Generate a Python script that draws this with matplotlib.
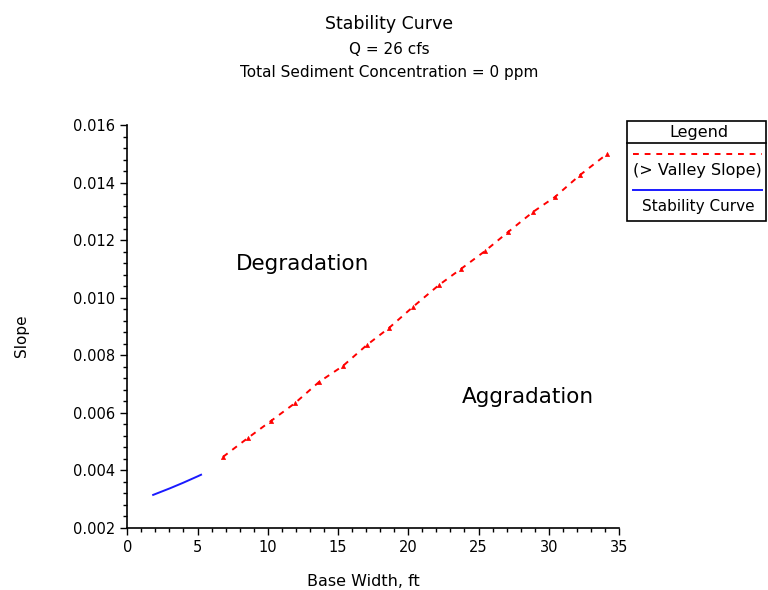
import matplotlib
matplotlib.use("Agg")
import matplotlib.pyplot as plt
from matplotlib.lines import Line2D
from matplotlib.patches import Rectangle
from matplotlib.ticker import MultipleLocator, FormatStrFormatter

plt.rcParams['font.family'] = ['DejaVu Sans']

# Valley slope line (> valley slope)
valley_width = [6.81, 8.59, 10.23, 11.94, 13.64, 15.35, 17.06, 18.63, 20.33,
                22.18, 23.75, 25.46, 27.10, 28.88, 30.44, 32.22, 34.14]
valley_slope = [0.00447, 0.00513, 0.00572, 0.00634, 0.00707, 0.00763, 0.00836,
                0.00895, 0.00968, 0.01044, 0.01100, 0.01162, 0.01228, 0.01298,
                0.01350, 0.01426, 0.01499]

# Stability curve
stab_width = [1.84, 3.04, 3.97, 5.03, 5.25]
stab_slope = [0.00315, 0.00338, 0.00357, 0.00380, 0.00385]

x_ticks = [0, 5, 10, 15, 20, 25, 30, 35]
y_ticks = [0.002, 0.004, 0.006, 0.008, 0.010, 0.012, 0.014, 0.016]

W, H = 768, 590
fig = plt.figure(figsize=(W / 100, H / 100), dpi=100)
ax = fig.add_axes([127.3 / W, 1 - 528 / H, (619 - 127.3) / W, (528 - 125) / H])

ax.plot(valley_width, valley_slope, color='#ff0000', lw=1.4,
        linestyle=(0, (3, 3)), marker='^', markersize=3, markeredgewidth=0.5)
ax.plot(stab_width, stab_slope, color='#1a1aff', lw=1.4)

ax.set_xlim(0, 35)
ax.set_ylim(0.002, 0.016)
ax.set_xticks(x_ticks)
ax.set_yticks(y_ticks)
ax.yaxis.set_major_formatter(FormatStrFormatter('%.3f'))
ax.xaxis.set_minor_locator(MultipleLocator(1))
ax.yaxis.set_minor_locator(MultipleLocator(0.0004))
for s in ('top', 'right'):
    ax.spines[s].set_visible(False)
for s in ('left', 'bottom'):
    ax.spines[s].set_linewidth(1.2)
ax.tick_params(which='major', direction='out', length=5, width=1, labelsize=10.5)
ax.tick_params(which='minor', direction='out', length=3, width=1)

ax.text(12.5, 0.01117, 'Degradation', fontsize=15.5, ha='center', va='center')
ax.text(28.5, 0.00655, 'Aggradation', fontsize=15.5, ha='center', va='center')

fig.text(389 / W, 1 - 24 / H, 'Stability Curve', fontsize=12.5, ha='center', va='center')
fig.text(389 / W, 1 - 49 / H, 'Q = 26 cfs', fontsize=11, ha='center', va='center')
fig.text(389 / W, 1 - 73 / H, 'Total Sediment Concentration = 0 ppm', fontsize=11,
         ha='center', va='center')
fig.text(363 / W, 1 - 581 / H, 'Base Width, ft', fontsize=11.5, ha='center', va='center')
fig.text(22 / W, 1 - 336 / H, 'Slope', fontsize=11, ha='center', va='center', rotation=90)

# Legend box drawn in figure pixel coordinates
def fx(px):
    return px / W

def fy(py):
    return 1 - py / H

fig.patches.append(Rectangle((fx(627), fy(221)), fx(766) - fx(627), fy(121) - fy(221),
                             transform=fig.transFigure, fill=False, lw=1.2,
                             edgecolor='black'))
fig.lines.append(Line2D([fx(627), fx(766)], [fy(143), fy(143)],
                        transform=fig.transFigure, color='black', lw=1.2))
fig.text(fx(699), fy(132), 'Legend', fontsize=11.5, ha='center', va='center')
fig.lines.append(Line2D([fx(633), fx(762)], [fy(154), fy(154)],
                        transform=fig.transFigure, color='#ff0000', lw=1.4,
                        linestyle=(0, (3, 3))))
fig.text(fx(697), fy(171), '(> Valley Slope)', fontsize=11.5, ha='center', va='center')
fig.lines.append(Line2D([fx(633), fx(762)], [fy(190), fy(190)],
                        transform=fig.transFigure, color='#1a1aff', lw=1.4))
fig.text(fx(698), fy(206), 'Stability Curve', fontsize=11, ha='center', va='center')

fig.savefig('out.png', dpi=100)
